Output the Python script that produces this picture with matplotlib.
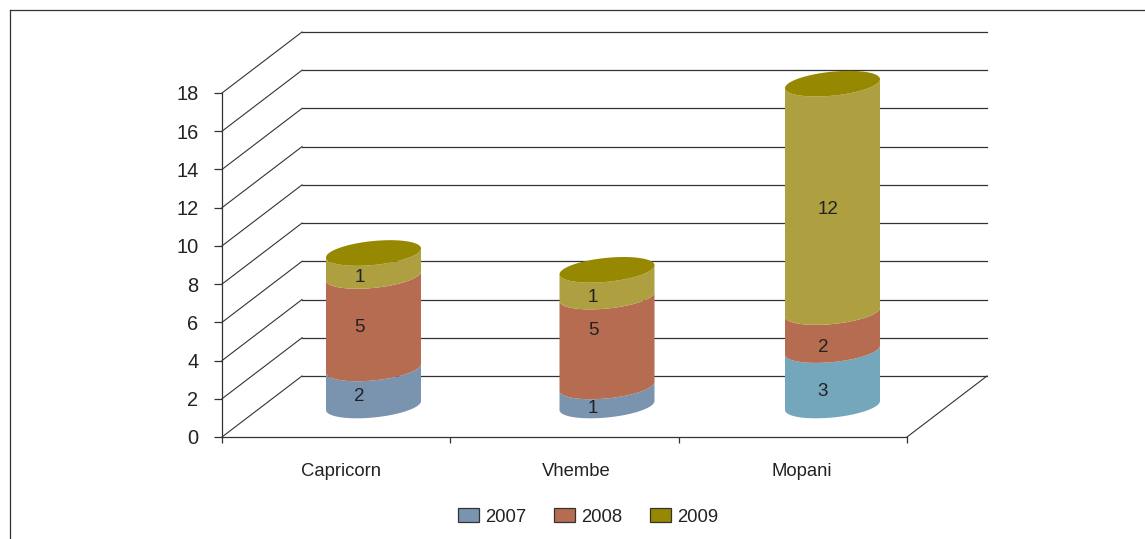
import numpy as np
import matplotlib
matplotlib.use("Agg")
import matplotlib.pyplot as plt
from matplotlib.lines import Line2D
from matplotlib.patches import Patch

plt.rcParams['font.family'] = ['Liberation Sans', 'DejaVu Sans']

categories = ['Capricorn', 'Vhembe', 'Mopani']
years = ['2007', '2008', '2009']
# heights, labels as printed on the bars
heights_2007 = [1.94, 1.0, 2.9]
heights_2008 = [4.84, 4.7, 1.99]
heights_2009 = [1.2, 1.4, 11.95]
labels_2007 = ['2', '1', '3']
labels_2008 = ['5', '5', '2']
labels_2009 = ['1', '1', '12']
y_ticks = list(range(0, 19, 2))

body_2007 = ['#7A94B0', '#7A94B0', '#74A6BC']
body_2008 = '#B66C50'
body_2009 = '#AEA041'
top_2009 = '#968800'
line_col = '#333333'

W, H = 1145, 539
fig = plt.figure(figsize=(W / 100, H / 100), dpi=100)
# axes is the front plane of the 3d box
ax = fig.add_axes([222 / W, 1 - 437 / H, 685 / W, 344 / H])
ax.set_xlim(0, 3)
ax.set_ylim(0, 18)

# pixel sizes to data units
ux = 3 / 685
uy = 18 / 344
depth_x = 80 * ux
depth_y = 61 * uy

for s in ['top', 'right']:
    ax.spines[s].set_visible(False)
for s in ['left', 'bottom']:
    ax.spines[s].set_color(line_col)
    ax.spines[s].set_linewidth(0.9)

ax.set_yticks(y_ticks)
ax.tick_params(axis='y', length=5.5, width=0.9, color=line_col, labelsize=14.4,
               labelcolor='#222222', pad=11.5)
ax.set_xticks([0, 1, 2, 3])
ax.set_xticklabels([])
ax.tick_params(axis='x', length=4, width=0.9, color=line_col)

# back wall and side wall
for v in y_ticks:
    ax.plot([0, depth_x], [v, v + depth_y], color=line_col, lw=0.8, clip_on=False, zorder=1)
    ax.plot([depth_x, 3 + depth_x], [v + depth_y, v + depth_y], color=line_col, lw=0.9,
            clip_on=False, zorder=1)
ax.plot([3, 3 + depth_x], [0, depth_y], color=line_col, lw=0.8, clip_on=False, zorder=1)

# cylinders
rx = 47.5 * ux
shear = 4.5 * uy
ry = 12 * uy
t_front = np.linspace(np.pi, 2 * np.pi, 60)
t_full = np.linspace(0, 2 * np.pi, 120)
bar_dy = 31.5 * uy

# layout tweaks in pixels, the original spacing is not quite regular
bar_x = [373.5, 607, 832.5]
cat_x = [341, 576, 801.5]
nudge_2007 = [0, 3, 3.5]
nudge_2008 = [-5, -21, 6]
nudge_2009 = [3, 4, 1.5]


def rim(cx, level, t):
    return cx + rx * np.cos(t), level + shear * np.cos(t) + ry * np.sin(t)


for i, cat in enumerate(categories):
    cx = (bar_x[i] - 222) * ux
    level = bar_dy
    segs = [(heights_2007[i], body_2007[i], labels_2007[i], nudge_2007[i]),
            (heights_2008[i], body_2008, labels_2008[i], nudge_2008[i]),
            (heights_2009[i], body_2009, labels_2009[i], nudge_2009[i])]
    for h, col, lab, nudge in segs:
        x0, y0 = rim(cx, level, t_front)
        x1, y1 = rim(cx, level + h, t_front)
        ax.fill(np.r_[x0, x1[::-1]], np.r_[y0, y1[::-1]], color=col, lw=0, clip_on=False, zorder=3)
        shift = -14 if i < 2 else (-4.5 if lab == '12' else -9.5)
        ax.text(cx + shift * ux, level + h / 2 - (10 + nudge) * uy, lab, ha='center', va='center',
                fontsize=13.5, color='#222222', zorder=5)
        level += h
    xt, yt = rim(cx, level, t_full)
    ax.fill(xt, yt, color=top_2009, lw=0, clip_on=False, zorder=4)
    ax.text((cat_x[i] - 222) * ux, -35 * uy, cat, ha='center', va='center', fontsize=13.3,
            color='#222222')

handles = [Patch(facecolor=body_2007[0], edgecolor=line_col, lw=0.9),
           Patch(facecolor=body_2008, edgecolor=line_col, lw=0.9),
           Patch(facecolor=top_2009, edgecolor=line_col, lw=0.9)]
fig.legend(handles, years, loc='center', bbox_to_anchor=(588 / W, 1 - 517 / H), ncol=3,
           frameon=False, fontsize=13.3, handlelength=1.15, handleheight=0.8,
           handletextpad=0.33, columnspacing=1.5, labelcolor='#222222')

# outer chart frame, only top and left are inside the picture
fig.add_artist(Line2D([10 / W, 10 / W], [0, 1 - 10 / H], color=line_col, lw=0.9))
fig.add_artist(Line2D([10 / W, 1], [1 - 10 / H, 1 - 10 / H], color=line_col, lw=0.9))

fig.savefig('out.png', dpi=100)
